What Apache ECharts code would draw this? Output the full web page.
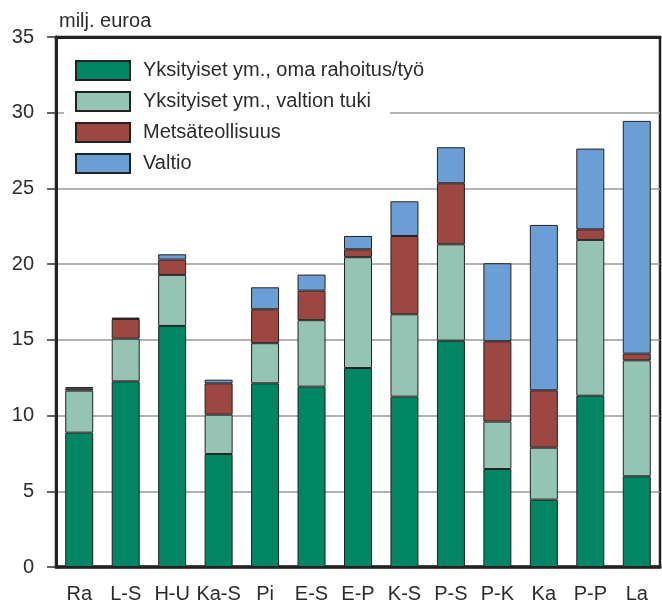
<!DOCTYPE html>
<html>
<head>
<meta charset="utf-8">
<title>milj. euroa</title>
<script src="https://cdn.jsdelivr.net/npm/echarts@6/dist/echarts.min.js"></script>
<style>
  html, body { margin: 0; padding: 0; background: #fff; }
  #main { width: 662px; height: 604px; }
</style>
</head>
<body>
<div id="main"></div>
<script type="text/javascript">
// alueet
var categories = ['Ra', 'L-S', 'H-U', 'Ka-S', 'Pi', 'E-S', 'E-P', 'K-S', 'P-S', 'P-K', 'Ka', 'P-P', 'La'];
// milj. euroa
var omaRahoitus = [8.87, 12.26, 15.92, 7.46, 12.13, 11.91, 13.14, 11.25, 14.95, 6.47, 4.45, 11.31, 5.99];
var valtionTuki = [2.78, 2.82, 3.37, 2.60, 2.65, 4.39, 7.32, 5.44, 6.36, 3.13, 3.43, 10.29, 7.66];
var metsateollisuus = [0.13, 1.30, 1.01, 2.07, 2.24, 1.95, 0.52, 5.17, 4.03, 5.31, 3.79, 0.70, 0.44];
var valtio = [0.10, 0.09, 0.35, 0.24, 1.45, 1.06, 0.88, 2.29, 2.38, 5.15, 10.92, 5.33, 15.37];
var seriesNames = ['Yksityiset ym., oma rahoitus/työ', 'Yksityiset ym., valtion tuki', 'Metsäteollisuus', 'Valtio'];
var seriesColors = ['#008663', '#96c4b4', '#9c4741', '#6b9ed4'];

var font = "'Liberation Sans', Arial, sans-serif";
var textColor = '#2b2b2b';
var fontSize = 20;

var chart = echarts.init(document.getElementById('main'));

var seriesData = [omaRahoitus, valtionTuki, metsateollisuus, valtio];
var series = seriesData.map(function (d, i) {
    return {
        name: seriesNames[i],
        type: 'bar',
        stack: 'yht',
        barWidth: 28,
        data: d,
        itemStyle: { color: seriesColors[i], borderColor: '#222', borderWidth: 1 }
    };
});

var option = {
    animation: false,
    textStyle: { fontFamily: font },
    grid: {
        left: 56, right: 2, top: 37, bottom: 37,
        show: true, borderColor: '#222', borderWidth: 2.5
    },
    title: {
        text: 'milj. euroa',
        left: 54, top: 6,
        textStyle: { fontFamily: font, fontSize: fontSize, fontWeight: 'normal', color: textColor }
    },
    legend: {
        orient: 'vertical',
        left: 75, top: 60,
        padding: 0,
        icon: 'rect',
        itemWidth: 54, itemHeight: 19, itemGap: 10,
        z: 10,
        data: seriesNames,
        textStyle: { fontFamily: font, fontSize: fontSize, color: textColor, lineHeight: 19, padding: [0, 0, 0, 8] }
    },
    graphic: [{
        type: 'rect',
        z: 3,
        shape: { x: 64, y: 45, width: 326, height: 135 },
        style: { fill: '#fff' }
    }],
    xAxis: [{
        type: 'category',
        data: categories,
        axisLine: { lineStyle: { color: '#222', width: 3.5 } },
        axisTick: { show: false },
        axisLabel: { interval: 0, fontFamily: font, fontSize: fontSize, color: textColor, margin: 17 }
    }, {
        type: 'category',
        position: 'top',
        data: categories,
        axisLine: { lineStyle: { color: '#222', width: 3 } },
        axisTick: { show: false },
        axisLabel: { show: false }
    }],
    yAxis: {
        type: 'value',
        min: 0, max: 35, interval: 5,
        axisLine: { show: true, lineStyle: { color: '#222', width: 3 } },
        axisTick: { show: true, inside: false, length: 9, lineStyle: { color: '#333', width: 1.5 } },
        axisLabel: { fontFamily: font, fontSize: fontSize, color: textColor, margin: 22 },
        splitLine: { show: true, lineStyle: { color: '#9a9a9a', width: 1.5 } }
    },
    series: series
};

chart.setOption(option);
</script>
</body>
</html>
